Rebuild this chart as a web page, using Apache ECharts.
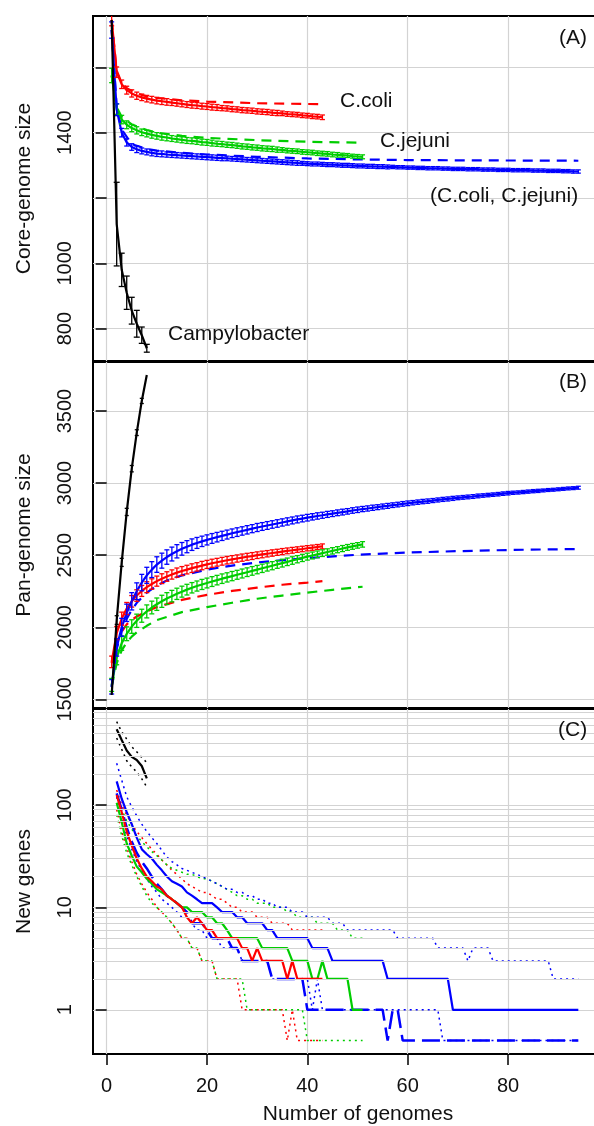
<!DOCTYPE html>
<html>
<head>
<meta charset="utf-8">
<script src="https://cdn.jsdelivr.net/npm/echarts@6.0.0/dist/echarts.min.js"></script>
<style>
  html, body { margin: 0; padding: 0; background: #fff; overflow: hidden; }
  #chart { width: 594px; height: 1126px; }
</style>
</head>
<body>
<div id="chart"></div>
<script>
// ---- tick labels ----
const genomeTicks = [0, 20, 40, 60, 80];
const coreTickMarks = [800, 1000, 1200, 1400, 1600];
const coreTickLabels = [800, 1000, 1400];
const panTicks = [1500, 2000, 2500, 3000, 3500];
const newGeneTicks = [1, 10, 100];
const newGeneMinorGrid = [2, 3, 4, 5, 6, 7, 8, 9, 20, 30, 40, 50, 60, 70, 80, 90, 200, 300, 400, 500, 600, 700, 800];

// ---- (A) core genome ----
const coliCore = [1745,1585,1548,1530,1520,1513,1508,1504,1501,1498,
  1496,1494,1492,1490,1488,1486,1484,1483,1481,1480,
  1478,1477,1475,1474,1472,1471,1469,1468,1467,1465,
  1464,1463,1461,1460,1459,1457,1456,1455,1453,1452,
  1450,1449,1447];
const coliCoreErr = [18,16,13,12,11,11,10,10,10,10,
  10,10,9,9,9,9,9,9,9,9,
  9,9,8,8,8,8,8,8,8,8,
  8,8,8,8,7,7,7,7,7,7,
  7,7,7];
const coliCoreDashX = [1,2,3,4,6,8,10,15,20,30,43];
const coliCoreDash = [1745,1590,1552,1536,1520,1511,1506,1499,1495,1490,1487];

const jejuniCore = [1575,1472,1440,1424,1414,1407,1401,1397,1393,1390,
  1387,1385,1382,1380,1378,1376,1375,1373,1371,1370,
  1368,1366,1365,1363,1362,1360,1358,1357,1355,1354,
  1352,1351,1350,1348,1347,1345,1344,1343,1341,1340,
  1339,1337,1336,1335,1333,1332,1331,1330,1328,1327,
  1326];
const jejuniCoreErr = [22,16,13,12,11,11,10,10,10,10,
  10,10,9,9,9,9,9,9,9,9,
  9,8,8,8,8,8,8,8,8,8,
  8,8,8,8,7,7,7,7,7,7,
  7,7,7,7,7,7,6,6,6,6,
  6];
const jejuniCoreDashX = [1,2,3,5,8,10,15,20,30,40,51];
const jejuniCoreDash = [1575,1478,1448,1425,1408,1400,1390,1384,1377,1372,1369];

const allCore = [1714,1470,1400,1370,1356,1349,1344,1341,1338,1336,
  1335,1333,1332,1331,1330,1329,1328,1327,1326,1325,
  1324,1323,1322,1321,1320,1319,1318,1317,1316,1315,
  1314,1313,1312,1311,1310,1309,1308,1307,1306,1305,
  1304,1304,1303,1302,1302,1301,1300,1300,1299,1298,
  1298,1297,1297,1296,1296,1295,1295,1294,1294,1293,
  1293,1292,1292,1291,1291,1291,1290,1290,1289,1289,
  1289,1288,1288,1288,1287,1287,1287,1286,1286,1286,
  1285,1285,1285,1285,1284,1284,1284,1283,1283,1283,
  1282,1282,1281,1281];
const allCoreErr = [25,18,13,11,10,10,9,9,9,9,
  9,8,8,8,8,8,8,8,8,8,
  8,8,8,7,7,7,7,7,7,7,
  7,7,7,7,7,7,7,7,6,6,
  6,6,6,6,6,6,6,6,6,6,
  6,6,6,6,6,6,5,5,5,5,
  5,5,5,5,5,5,5,5,5,5,
  5,5,5,5,5,5,5,5,5,5,
  5,5,5,5,5,5,5,5,5,5,
  5,5,5,5];
const allCoreDashX = [1,2,3,5,8,10,15,20,30,40,50,60,75,94];
const allCoreDash = [1714,1480,1410,1365,1350,1345,1338,1333,1326,1321,1318,1316,1315,1314];

const genusCore = [1745,1120,980,910,855,815,780,740];
const genusCoreErr = [0,128,51,51,41,41,25,12];

// ---- (B) pan genome ----
const coliPan = [1760,1960,2060,2130,2180,2220,2252,2278,2300,2320,
  2337,2352,2366,2379,2390,2400,2410,2419,2428,2436,
  2444,2451,2458,2465,2471,2477,2483,2489,2494,2500,
  2505,2510,2515,2520,2525,2530,2534,2539,2543,2548,
  2552,2557,2561];
const coliPanErr = [40,45,45,42,40,40,38,38,36,35,
  34,33,32,32,31,30,30,29,29,28,
  28,27,27,26,26,25,25,24,24,23,
  23,22,22,21,21,20,20,19,19,18,
  18,17,17];
const coliPanDashX = [1,2,3,4,5,6,8,10,15,20,25,30,35,40,43];
const coliPanDash = [1750,1890,1970,2020,2050,2075,2110,2140,2190,2225,2252,2275,2295,2310,2320];

const jejuniPan = [1600,1790,1890,1955,2005,2045,2080,2110,2137,2160,
  2180,2199,2216,2232,2247,2261,2274,2286,2297,2307,
  2317,2327,2337,2346,2355,2364,2373,2382,2391,2400,
  2409,2418,2427,2436,2445,2454,2463,2472,2481,2490,
  2498,2506,2514,2522,2530,2538,2546,2554,2561,2568,
  2575];
const jejuniPanErr = [45,50,50,48,47,46,45,45,44,43,
  42,41,40,39,38,37,36,35,35,34,
  34,33,33,32,32,31,31,30,30,29,
  29,28,28,27,27,26,26,25,25,24,
  24,23,23,22,22,21,21,20,20,19,
  19];
const jejuniPanDashX = [1,2,3,4,5,6,8,10,15,20,25,30,35,40,45,51];
const jejuniPanDash = [1590,1750,1840,1895,1935,1965,2010,2050,2105,2140,2170,2198,2220,2240,2260,2281];

const allPan = [1587,1860,2000,2100,2180,2250,2310,2360,2400,2435,
  2462,2487,2508,2527,2544,2559,2573,2585,2596,2606,
  2616,2625,2634,2643,2652,2660,2668,2676,2684,2692,
  2699,2706,2713,2720,2727,2734,2741,2748,2754,2760,
  2766,2772,2777,2783,2788,2794,2799,2804,2810,2815,
  2820,2824,2829,2833,2838,2842,2847,2851,2856,2860,
  2864,2868,2872,2875,2879,2883,2887,2890,2894,2898,
  2901,2904,2907,2911,2914,2917,2920,2923,2927,2930,
  2933,2935,2938,2941,2944,2946,2949,2952,2954,2957,
  2960,2963,2965,2968];
const allPanErr = [50,60,62,60,60,58,57,56,55,54,
  52,50,48,46,44,42,40,38,36,35,
  34,33,32,31,30,30,29,29,28,28,
  27,27,26,26,25,25,24,24,23,23,
  22,22,21,21,20,20,20,19,19,19,
  18,18,18,17,17,17,16,16,16,16,
  15,15,15,15,14,14,14,14,14,13,
  13,13,13,13,12,12,12,12,12,12,
  11,11,11,11,11,11,10,10,10,10,
  10,10,10,10];
const allPanDashX = [1,2,3,4,5,6,8,10,12,15,20,25,30,40,50,60,70,80,94];
const allPanDash = [1587,1850,1975,2060,2120,2170,2240,2290,2325,2360,2400,2428,2450,2480,2503,2518,2528,2536,2543];

const genusPan = [1530,2050,2450,2800,3100,3350,3570,3750];
const genusPanErr = [0,30,28,25,22,20,18,0];

// ---- (C) new genes, from genome 2 on (0 drawn at 0.5) ----
const genusNew = [548,430,340,295,275,240,182];
const genusNewHi = [650,520,440,370,330,290,260];
const genusNewLo = [450,350,270,235,210,180,150];

const coliNew = [125,85,55,40,30,24,20,18,16,15,
  13,12,11,10,8,7,8,7,6,6,
  5,5,5,5,5,4,4,3,4,3,
  3,3,3,3,2,3,2,2,2,2,
  2,2];
const coliNewHi = [140,100,80,65,55,48,42,37,33,29,
  26,23,21,19,17,16,15,14,14,13,
  12,12,11,10,10,9,9,9,8,8,
  8,7,7,7,7,6,6,6,6,6,
  6,6];
const coliNewLo = [90,55,38,28,21,17,14,12,10,9,
  8,7,6,5,5,4,4,3,3,3,
  2,2,2,2,2,1,1,1,1,1,
  1,1,1,1,0.5,1,0.5,0.5,0.5,0.5,
  0.5,0.5];

const jejuniNew = [105,68,42,32,25,22,19,17,15,14,
  13,12,11,10,10,9,9,9,8,8,
  7,7,6,5,5,5,5,5,5,4,
  4,4,4,4,4,3,3,3,3,2,
  2,3,2,2,2,2,2,1,1,1];
const jejuniNewHi = [120,90,70,58,50,44,39,35,32,29,
  26,24,23,22,21,21,20,19,19,18,
  17,16,15,14,13,13,12,12,11,11,
  11,10,10,10,9,9,8,8,8,8,
  7,7,7,7,6,6,6,5,5,5];
const jejuniNewLo = [80,50,34,26,20,16,13,11,10,9,
  8,7,6,5,5,4,4,3,3,3,
  2,2,2,2,2,2,1,1,1,1,
  1,1,1,1,1,1,1,1,0.5,0.5,
  0.5,0.5,0.5,0.5,0.5,0.5,0.5,0.5,0.5,0.5];

const allNew = [170,115,85,65,48,37,33,30,26,23,
  20,18,17,16,14,13,12,11,11,11,
  10,9,9,9,8,8,7,7,7,7,
  6,6,5,5,5,5,5,5,5,4,
  4,4,4,3,3,3,3,3,3,3,
  3,3,3,3,2,2,2,2,2,2,
  2,2,2,2,2,2,2,1,1,1,
  1,1,1,1,1,1,1,1,1,1,
  1,1,1,1,1,1,1,1,1,1,
  1,1,1];
const allNewDash = [130,90,60,44,34,28,24,20,17,15,
  13,12,11,10,9,7,7,7,6,5,
  5,5,5,4,4,3,3,3,3,3,
  3,2,2,2,2,2,2,2,1,1,
  1,1,1,1,1,1,1,1,1,1,
  1,1,1,1,0.5,1,1,0.5,0.5,0.5,
  0.5,0.5,0.5,0.5,0.5,0.5,0.5,0.5,0.5,0.5,
  0.5,0.5,0.5,0.5,0.5,0.5,0.5,0.5,0.5,0.5,
  0.5,0.5,0.5,0.5,0.5,0.5,0.5,0.5,0.5,0.5,
  0.5,0.5,0.5];
const allNewHi = [255,175,120,96,78,65,55,48,42,36,
  31,28,26,24,23,22,21,20,19,18,
  17,16,15,15,14,14,13,13,12,12,
  11,11,10,10,10,9,9,9,8,8,
  8,8,8,7,7,7,6,6,6,6,
  6,6,6,6,6,6,5,5,5,5,
  5,5,5,5,4,4,4,4,4,4,
  3,4,4,4,4,3,3,3,3,3,
  3,3,3,3,3,3,3,2,2,2,
  2,2,2];
const allNewLo = [120,75,50,37,28,23,19,16,14,12,
  11,10,9,8,8,7,6,6,5,5,
  5,4,4,4,4,3,3,3,3,3,
  3,2,2,2,2,2,2,2,2,1,
  2,1,1,1,1,1,1,1,1,1,
  1,1,1,1,1,1,1,1,1,1,
  1,1,1,1,1,0.5,0.5,0.5,0.5,0.5,
  0.5,0.5,0.5,0.5,0.5,0.5,0.5,0.5,0.5,0.5,
  0.5,0.5,0.5,0.5,0.5,0.5,0.5,0.5,0.5,0.5,
  0.5,0.5,0.5];

// ---- helpers ----
const RED = '#ff0000', GREEN = '#00cd00', BLUE = '#0000ff', BLACK = '#000000';
const FONT = '"Liberation Sans", Arial, Helvetica, sans-serif';
const GRIDCOL = '#d3d3d3';
const DASH = [10, 7];
const DOT = [2, 4];

function seq(start, n) {
  return Array.from({ length: n }, (_, i) => start + i);
}
function pairs(xs, ys) {
  return ys.map((y, i) => [xs[i], y]);
}
function line(g, xs, ys, color, type, width, z) {
  return {
    type: 'line', xAxisIndex: g, yAxisIndex: g,
    data: pairs(xs, ys), symbol: 'none', silent: true,
    lineStyle: { color: color, width: width || 2.2, type: type || 'solid', cap: 'butt' },
    z: z || 3, animation: false
  };
}
function errBars(g, ys, errs, color, cap) {
  const xs = seq(1, ys.length);
  return {
    type: 'custom', xAxisIndex: g, yAxisIndex: g, silent: true, clip: true,
    animation: false, z: 4,
    encode: { x: 0, y: [1, 2] },
    data: ys.map((y, i) => [xs[i], y - errs[i], y + errs[i]]),
    renderItem: function (params, api) {
      const x = api.value(0);
      if (api.value(2) - api.value(1) <= 0) return null;
      const lo = api.coord([x, api.value(1)]);
      const hi = api.coord([x, api.value(2)]);
      const st = { stroke: color, lineWidth: 1.3 };
      return {
        type: 'group', children: [
          { type: 'line', shape: { x1: lo[0], y1: lo[1], x2: hi[0], y2: hi[1] }, style: st },
          { type: 'line', shape: { x1: lo[0] - cap, y1: lo[1], x2: lo[0] + cap, y2: lo[1] }, style: st },
          { type: 'line', shape: { x1: hi[0] - cap, y1: hi[1], x2: hi[0] + cap, y2: hi[1] }, style: st }
        ]
      };
    }
  };
}

// ---- axes ----
// plot box runs a few px past the right edge of the page, as in the original
const gridBox = { left: 93, width: 504, outerBoundsMode: 'none', containLabel: false, show: true, borderColor: '#000', borderWidth: 2 };
const grids = [
  Object.assign({ top: 16, height: 345 }, gridBox),
  Object.assign({ top: 362, height: 346 }, gridBox),
  Object.assign({ top: 709, height: 345 }, gridBox)
];

function xAx(g, bottom) {
  return {
    type: 'value', gridIndex: g, min: -2.72, max: 97.72,
    axisLine: { show: false },
    axisTick: { show: bottom, length: 11, lineStyle: { color: '#000', width: 1.5 }, customValues: genomeTicks },
    axisLabel: {
      show: bottom, margin: 22, fontSize: 20, fontFamily: FONT, color: '#111',
      customValues: genomeTicks, formatter: v => String(v)
    },
    splitLine: { show: true, lineStyle: { color: GRIDCOL, width: 1.2 } },
    name: bottom ? 'Number of genomes' : '',
    nameLocation: 'middle', nameGap: 50,
    nameTextStyle: { fontSize: 21, fontFamily: FONT, color: '#111', padding: [0, 0, 0, 26] }
  };
}
function yAx(g, opts) {
  return Object.assign({
    gridIndex: g,
    axisLine: { show: false },
    axisTick: { show: true, length: 11, lineStyle: { color: '#000', width: 1.5 }, customValues: opts.ticks },
    axisLabel: {
      rotate: 90, margin: 18, fontSize: 20, fontFamily: FONT, color: '#111',
      customValues: opts.labels, formatter: v => String(v)
    },
    splitLine: { show: true, lineStyle: { color: GRIDCOL, width: 1.2 } },
    nameLocation: 'middle', nameGap: 58,
    nameTextStyle: { fontSize: 21, fontFamily: FONT, color: '#111' }
  }, opts.extra);
}

const series = [];
// (A)
series.push(line(0, coliCoreDashX, coliCoreDash, RED, DASH));
series.push(line(0, jejuniCoreDashX, jejuniCoreDash, GREEN, DASH));
series.push(line(0, allCoreDashX, allCoreDash, BLUE, DASH));
series.push(line(0, seq(1, coliCore.length), coliCore, RED));
series.push(errBars(0, coliCore, coliCoreErr, RED, 2.5));
series.push(line(0, seq(1, jejuniCore.length), jejuniCore, GREEN));
series.push(errBars(0, jejuniCore, jejuniCoreErr, GREEN, 2.5));
series.push(line(0, seq(1, allCore.length), allCore, BLUE));
series.push(errBars(0, allCore, allCoreErr, BLUE, 2.5));
series.push(line(0, seq(1, genusCore.length), genusCore, BLACK, 'solid', 2.2, 5));
series.push(Object.assign(errBars(0, genusCore, genusCoreErr, BLACK, 3), { z: 5 }));
// (B)
series.push(line(1, coliPanDashX, coliPanDash, RED, DASH));
series.push(line(1, jejuniPanDashX, jejuniPanDash, GREEN, DASH));
series.push(line(1, allPanDashX, allPanDash, BLUE, DASH));
series.push(line(1, seq(1, coliPan.length), coliPan, RED));
series.push(errBars(1, coliPan, coliPanErr, RED, 2.5));
series.push(line(1, seq(1, jejuniPan.length), jejuniPan, GREEN));
series.push(errBars(1, jejuniPan, jejuniPanErr, GREEN, 2.5));
series.push(line(1, seq(1, allPan.length), allPan, BLUE));
series.push(errBars(1, allPan, allPanErr, BLUE, 2.5));
series.push(line(1, seq(1, genusPan.length), genusPan, BLACK, 'solid', 2.2, 5));
series.push(Object.assign(errBars(1, genusPan, genusPanErr, BLACK, 2), { z: 5 }));
// (C) minor log grid lines
series.push({
  type: 'line', xAxisIndex: 2, yAxisIndex: 2, data: [], z: 1, silent: true, animation: false,
  markLine: {
    silent: true, symbol: ['none', 'none'], label: { show: false }, animation: false,
    lineStyle: { color: GRIDCOL, width: 1.2, type: 'solid' },
    data: newGeneMinorGrid.map(v => ({ yAxis: v }))
  }
});
series.push(line(2, seq(2, coliNewHi.length), coliNewHi, RED, DOT, 1.5));
series.push(line(2, seq(2, coliNewLo.length), coliNewLo, RED, DOT, 1.5));
series.push(line(2, seq(2, jejuniNewHi.length), jejuniNewHi, GREEN, DOT, 1.5));
series.push(line(2, seq(2, jejuniNewLo.length), jejuniNewLo, GREEN, DOT, 1.5));
series.push(line(2, seq(2, allNewHi.length), allNewHi, BLUE, DOT, 1.5));
series.push(line(2, seq(2, allNewLo.length), allNewLo, BLUE, DOT, 1.5));
series.push(line(2, seq(2, genusNewHi.length), genusNewHi, BLACK, DOT, 1.5));
series.push(line(2, seq(2, genusNewLo.length), genusNewLo, BLACK, DOT, 1.5));
series.push(line(2, seq(2, allNewDash.length), allNewDash, BLUE, [18, 7], 2.5));
series.push(line(2, seq(2, jejuniNew.length), jejuniNew, GREEN));
series.push(line(2, seq(2, coliNew.length), coliNew, RED));
series.push(line(2, seq(2, allNew.length), allNew, BLUE));
series.push(line(2, seq(2, genusNew.length), genusNew, BLACK));

function label(text, x, y) {
  return {
    type: 'text', silent: true, z: 100,
    style: { text: text, x: x, y: y, font: '21px ' + FONT, fill: '#111', verticalAlign: 'middle', align: 'left' }
  };
}

const option = {
  animation: false,
  backgroundColor: '#fff',
  grid: grids,
  xAxis: [xAx(0, false), xAx(1, false), xAx(2, true)],
  yAxis: [
    yAx(0, { ticks: coreTickMarks, labels: coreTickLabels, extra: { type: 'value', min: 701, max: 1757, name: 'Core-genome size' } }),
    yAx(1, { ticks: panTicks, labels: panTicks, extra: { type: 'value', min: 1440, max: 3840, name: 'Pan-genome size' } }),
    yAx(2, { ticks: newGeneTicks, labels: newGeneTicks, extra: { type: 'log', logBase: 10, min: 0.37, max: 865, name: 'New genes' } })
  ],
  series: series,
  graphic: [
    label('(A)', 559, 38),
    label('C.coli', 340, 101),
    label('C.jejuni', 380, 141),
    label('(C.coli, C.jejuni)', 430, 196),
    label('Campylobacter', 168, 334),
    label('(B)', 559, 382),
    label('(C)', 558, 730)
  ]
};

const chart = echarts.init(document.getElementById('chart'), null, { renderer: 'canvas' });
chart.setOption(option);
</script>
</body>
</html>
